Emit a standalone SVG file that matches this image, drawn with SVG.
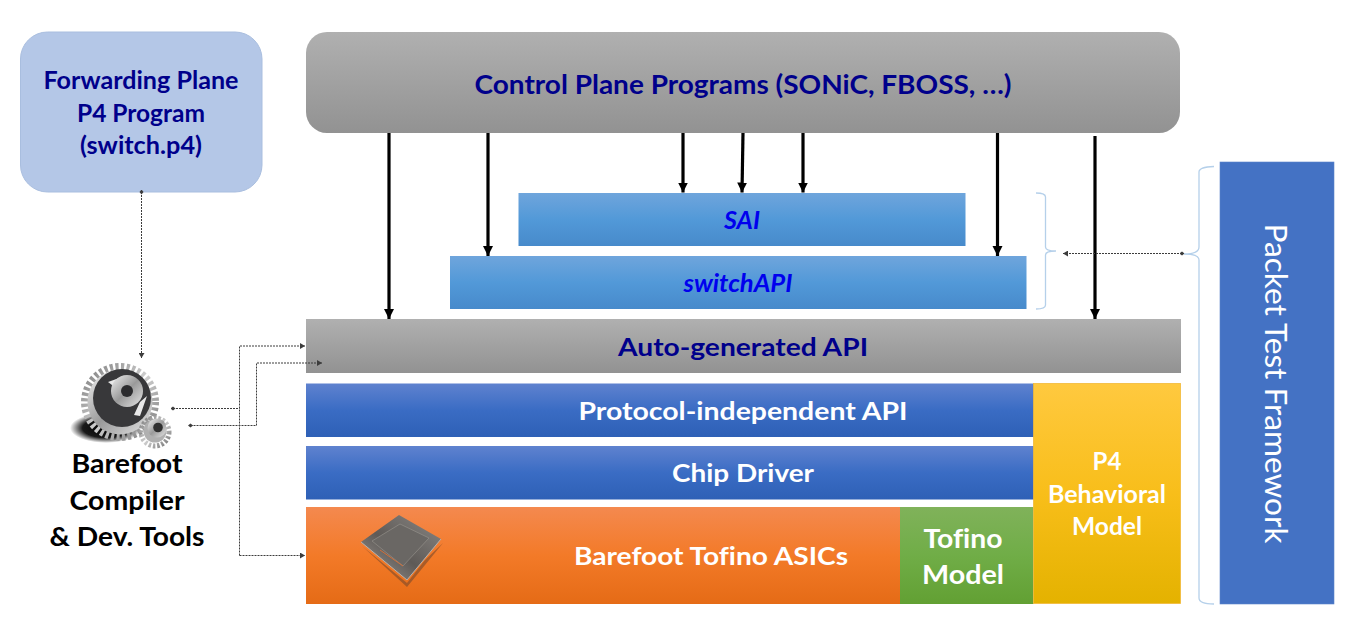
<svg xmlns="http://www.w3.org/2000/svg" width="1347" height="618" viewBox="0 0 1347 618">
<style>
text{font-family:"Lato","Open Sans","Liberation Sans",sans-serif;font-weight:700;text-anchor:middle;font-variant-ligatures:none}
.navy{fill:#00008b}.blue{fill:#0000ee;font-style:italic}.w{fill:#fff}.k{fill:#000}
.thick{fill:none;stroke:#000;stroke-width:3.200;marker-end:url(#big)}
.dot{fill:none;stroke:#3c3c3c;stroke-width:1;stroke-dasharray:2 1}
.da{marker-end:url(#small)}.ds{marker-start:url(#dia)}
.brace{fill:none;stroke:#b5d0ea;stroke-width:1.300}
</style>
<defs>
<linearGradient id="gray" x1="0" y1="0" x2="0" y2="1"><stop offset="0" stop-color="#b0b0b0"/><stop offset="1" stop-color="#929292"/></linearGradient>
<linearGradient id="sky" x1="0" y1="0" x2="0" y2="1"><stop offset="0" stop-color="#6fa5dc"/><stop offset=".5" stop-color="#5299d8"/><stop offset="1" stop-color="#478acb"/></linearGradient>
<linearGradient id="roy" x1="0" y1="0" x2="0" y2="1"><stop offset="0" stop-color="#5f82cf"/><stop offset=".5" stop-color="#3a6cc4"/><stop offset="1" stop-color="#2e60b6"/></linearGradient>
<linearGradient id="org" x1="0" y1="0" x2="0" y2="1"><stop offset="0" stop-color="#f4894f"/><stop offset=".5" stop-color="#f37a28"/><stop offset="1" stop-color="#e56b16"/></linearGradient>
<linearGradient id="grn" x1="0" y1="0" x2="0" y2="1"><stop offset="0" stop-color="#80b25a"/><stop offset=".5" stop-color="#70ad47"/><stop offset="1" stop-color="#62a033"/></linearGradient>
<linearGradient id="yel" x1="0" y1="0" x2="0" y2="1"><stop offset="0" stop-color="#ffc93f"/><stop offset=".5" stop-color="#f8be1a"/><stop offset="1" stop-color="#e4b200"/></linearGradient>
<linearGradient id="metal" x1="0" y1="0" x2="1" y2="1"><stop offset="0" stop-color="#f2f2f2"/><stop offset=".5" stop-color="#9a9a9a"/><stop offset="1" stop-color="#e6e6e6"/></linearGradient>
<linearGradient id="teeth" x1="0" y1="0" x2="1" y2="1"><stop offset="0" stop-color="#7d7d7d"/><stop offset=".5" stop-color="#cfcfcf"/><stop offset="1" stop-color="#787878"/></linearGradient>
<linearGradient id="chip" x1="0" y1="1" x2="1" y2="0"><stop offset="0" stop-color="#a09c98"/><stop offset=".45" stop-color="#5e5a57"/><stop offset="1" stop-color="#8b8885"/></linearGradient>
<radialGradient id="shadow"><stop offset="0" stop-color="#000"/><stop offset=".65" stop-color="#000" stop-opacity=".9"/><stop offset="1" stop-color="#000" stop-opacity="0"/></radialGradient>
<marker id="big" markerUnits="userSpaceOnUse" markerWidth="12" markerHeight="12" refX="10" refY="6" orient="auto"><path d="M0 1L10 6L0 11Z" fill="#000"/></marker>
<marker id="small" markerUnits="userSpaceOnUse" markerWidth="6" markerHeight="6" refX="5" refY="3" orient="auto"><path d="M0 0L5 3L0 6Z" fill="#3c3c3c"/></marker>
<marker id="dia" markerUnits="userSpaceOnUse" markerWidth="5" markerHeight="5" refX="2.500" refY="2.500" orient="auto"><path d="M0 2.500L2.500 0.500L5 2.500L2.500 4.500Z" fill="#3c3c3c"/></marker>
</defs>

<g id="fwd"><rect x="20.500" y="32" width="241.500" height="160" rx="27" fill="#b4c7e7" stroke="#a9bedf"/>
<text class="navy" font-size="24" x="141" y="89" textLength="195" lengthAdjust="spacingAndGlyphs">Forwarding Plane</text>
<text class="navy" font-size="24" x="141" y="122" textLength="128" lengthAdjust="spacingAndGlyphs">P4 Program</text>
<text class="navy" font-size="24" x="141" y="154" textLength="122" lengthAdjust="spacingAndGlyphs">(switch.p4)</text></g>

<g id="control"><rect x="306" y="32" width="874" height="101" rx="21" fill="url(#gray)"/>
<text class="navy" font-size="27" x="743" y="94" textLength="537" lengthAdjust="spacingAndGlyphs">Control Plane Programs (SONiC, FBOSS, …)</text></g>

<g id="sai"><rect x="518.500" y="193" width="447" height="53" fill="url(#sky)"/>
<text class="blue" font-size="24" x="742" y="229" textLength="36" lengthAdjust="spacingAndGlyphs">SAI</text></g>
<g id="switchapi"><rect x="450" y="256" width="576.500" height="53" fill="url(#sky)"/>
<text class="blue" font-size="24" x="738" y="292" textLength="109" lengthAdjust="spacingAndGlyphs">switchAPI</text></g>
<g id="autogen"><rect x="306" y="319" width="875" height="54" fill="url(#gray)"/>
<text class="navy" font-size="25" x="743" y="356" textLength="250" lengthAdjust="spacingAndGlyphs">Auto-generated API</text></g>
<g id="piapi"><rect x="306" y="383.500" width="728" height="53.500" fill="url(#roy)"/>
<text class="w" font-size="25" x="743" y="420" textLength="329" lengthAdjust="spacingAndGlyphs">Protocol-independent API</text></g>
<g id="driver"><rect x="306" y="446" width="728" height="53.500" fill="url(#roy)"/>
<text class="w" font-size="25" x="743" y="482" textLength="142" lengthAdjust="spacingAndGlyphs">Chip Driver</text></g>
<g id="tofino"><rect x="306" y="507" width="594" height="97" fill="url(#org)"/>
<text class="w" font-size="25" x="711" y="565" textLength="274" lengthAdjust="spacingAndGlyphs">Barefoot Tofino ASICs</text>
<g id="chipimg">
<polygon points="362,546 407,587 443,543 425,560 407,583" fill="#7a4a2c" opacity=".6"/>
<polygon points="361,542 399,515 441,539 407,580" fill="url(#chip)"/>
<path d="M361 542L407 580L441 539" fill="none" stroke="#b5b1ad" stroke-width="1"/>
<polygon points="372,541 400,524 429,538 403,566" fill="#6a6764" stroke="#98958f" stroke-width=".6"/>
<path d="M380 550L403 566" stroke="#d1703a" stroke-width="1" fill="none"/>
</g></g>
<g id="model"><rect x="900" y="507" width="133.500" height="97" fill="url(#grn)"/>
<text class="w" font-size="27" x="963" y="548" textLength="79" lengthAdjust="spacingAndGlyphs">Tofino</text>
<text class="w" font-size="27" x="963" y="584" textLength="82" lengthAdjust="spacingAndGlyphs">Model</text></g>
<g id="behavioral"><rect x="1033.500" y="383.500" width="147" height="220" fill="url(#yel)" stroke="#f2b838" stroke-width=".8"/>
<text class="w" font-size="24" x="1107" y="470">P4</text>
<text class="w" font-size="24" x="1107" y="503" textLength="118" lengthAdjust="spacingAndGlyphs">Behavioral</text>
<text class="w" font-size="24" x="1107" y="535" textLength="70" lengthAdjust="spacingAndGlyphs">Model</text></g>

<g id="ptf"><rect x="1220" y="162" width="114" height="442" fill="#4472c4" stroke="#5b82c9" stroke-width=".6"/>
<text class="w" style="font-weight:400" font-size="31" transform="translate(1265 383.500) rotate(90)" textLength="320" lengthAdjust="spacingAndGlyphs">Packet Test Framework</text></g>

<g id="tools">
<ellipse cx="106" cy="428" rx="36" ry="15" fill="url(#shadow)"/>
<circle cx="120" cy="402" r="35.500" fill="none" stroke="url(#teeth)" stroke-width="7" stroke-dasharray="3.200 2.400"/>
<circle cx="120" cy="402" r="32.500" fill="url(#metal)"/>
<circle cx="122" cy="398" r="29" fill="#38383a"/>
<path d="M108 382L122 377L116 388Z M140 402L147 396L140 416L134 415Z" fill="#e8e8e8"/>
<circle cx="127" cy="391" r="16" fill="url(#metal)"/>
<circle cx="127" cy="391" r="6" fill="#2c2c2e"/>
<circle cx="155" cy="432" r="14" fill="none" stroke="url(#teeth)" stroke-width="5" stroke-dasharray="2.500 1.800"/>
<circle cx="155" cy="431" r="11.500" fill="#b0b0b0"/>
<circle cx="157" cy="428" r="9.500" fill="url(#metal)"/>
<circle cx="158" cy="427.500" r="4.800" fill="#2f2f2f"/>
<text class="k" font-size="27" x="127" y="473" textLength="111" lengthAdjust="spacingAndGlyphs">Barefoot</text>
<text class="k" font-size="27" x="127" y="510" textLength="115" lengthAdjust="spacingAndGlyphs">Compiler</text>
<text class="k" font-size="27" x="127" y="546" textLength="155" lengthAdjust="spacingAndGlyphs">&amp; Dev. Tools</text>
</g>

<g id="connectors">
<path class="thick" d="M389 133V319"/>
<path class="thick" d="M488 133V256"/>
<path class="thick" d="M683 133V192.500"/>
<path class="thick" d="M743 133L742 192.500"/>
<path class="thick" d="M803 133V192.500"/>
<path class="thick" d="M997.500 133V256"/>
<path class="thick" d="M1095 136V319"/>
<path class="dot da ds" d="M141.500 192V358"/>
<path class="dot ds" d="M173 408.500H239.500"/>
<path class="dot da" d="M239.500 555.500V346H305"/>
<path class="dot da" d="M239.500 555.500H305"/>
<path class="dot da ds" d="M190.500 425.500H256.500V363H322"/>
<path class="dot da ds" d="M1182 253.500H1063"/>
<path class="brace" d="M1036 193Q1045.500 193 1045.500 197V247Q1045.500 251 1056 251Q1045.500 251 1045.500 255V305Q1045.500 309 1036 309"/>
<path class="brace" d="M1214 166.500Q1199 167 1199 172V247Q1199 254 1184 254Q1199 254 1199 260V598Q1199 604 1214 604"/>
</g>
</svg>
